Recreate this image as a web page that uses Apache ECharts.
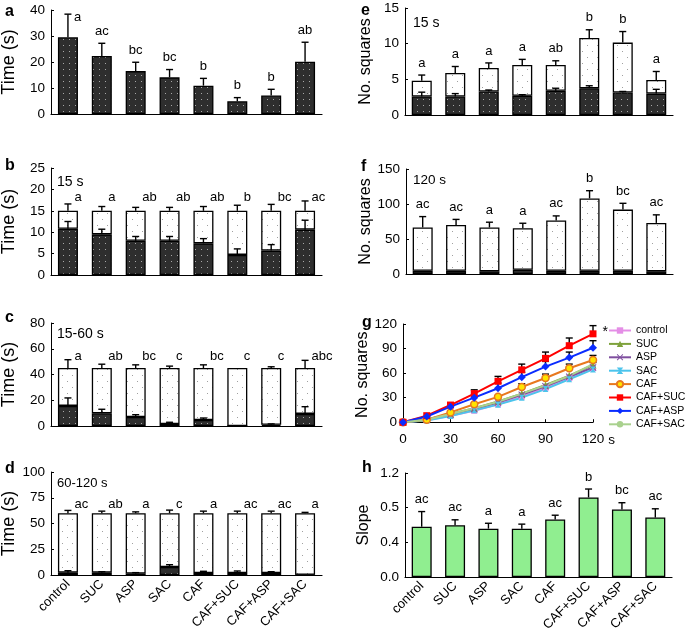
<!DOCTYPE html>
<html>
<head>
<meta charset="utf-8">
<script src="https://cdn.jsdelivr.net/npm/echarts@6.0.0/dist/echarts.min.js"></script>
<style>
  html, body { margin: 0; padding: 0; background: #fff; }
  #main { width: 685px; height: 630px; }
</style>
</head>
<body>
<div id="main"></div>
<script>
// 分组
const groups = ['control', 'SUC', 'ASP', 'SAC', 'CAF', 'CAF+SUC', 'CAF+ASP', 'CAF+SAC'];

// a: 总时间
const aMean = [29.5, 22.3, 16.5, 14.1, 10.9, 4.9, 7.1, 20.1];
const aHi = [38.4, 27.2, 19.9, 17.1, 13.7, 6.3, 9.5, 27.6];
const aLetters = ['a', 'ac', 'bc', 'bc', 'b', 'b', 'b', 'ab'];

// b: 15 s
const bTotal = [15, 15, 15, 15, 15, 15, 15, 15];
const bTotalHi = [16.6, 16.0, 15.8, 15.8, 16.0, 16.3, 16.5, 17.3];
const bDark = [10.8, 9.5, 8.0, 8.0, 7.4, 4.7, 5.7, 10.6];
const bDarkHi = [12.5, 10.7, 9.0, 9.0, 8.5, 6.1, 7.1, 12.8];
const bLetters = ['a', 'a', 'ab', 'ab', 'ab', 'b', 'bc', 'ac'];

// c: 15-60 s
const cTotal = [45, 45, 45, 45, 45, 45, 45, 45];
const cTotalHi = [51.5, 48, 47.5, 46.5, 47.5, null, 46, 51];
const cDark = [15.6, 9.9, 7.0, 1.6, 4.7, 0, 1.0, 9.4];
const cDarkHi = [21.8, 13, 8.8, 2.9, 6.2, null, 1.6, 15];
const cLetters = ['a', 'ab', 'bc', 'c', 'bc', 'c', 'c', 'abc'];

// d: 60-120 s
const dTotal = [60, 60, 60, 60, 60, 60, 60, 60];
const dTotalHi = [62.7, 62.0, 61.3, 63, 62.0, 62.0, 62.0, 60.8];
const dDark = [2.3, 2.3, 1.3, 7.8, 2.0, 2.0, 2.0, 0.3];
const dDarkHi = [4.2, 3.2, 2.3, 10, 3.6, 3.9, 3.2, null];
const dLetters = ['ac', 'ab', 'a', 'c', 'a', 'ac', 'ac', 'a'];

// e: 15 s 方格数
const eTotal = [4.8, 5.9, 6.6, 7.0, 7.0, 10.8, 10.15, 4.9];
const eTotalHi = [5.6, 6.8, 7.3, 7.8, 7.6, 11.95, 11.7, 6.1];
const eDark = [2.6, 2.6, 3.3, 2.7, 3.4, 3.75, 3.15, 3.0];
const eDarkHi = [3.2, 3.0, 3.5, 2.85, 3.75, 4.1, 3.3, 3.6];
const eLetters = ['a', 'a', 'a', 'a', 'ab', 'b', 'b', 'a'];

// f: 120 s 方格数
const fTotal = [66.5, 70, 66.5, 65.5, 76.5, 108, 92, 73];
const fTotalHi = [82, 78, 74, 72.5, 83, 119, 101, 84.5];
const fDark = [4.5, 4.5, 4, 6, 4.5, 4.5, 4.5, 4];
const fLetters = ['ac', 'ac', 'a', 'a', 'ac', 'b', 'bc', 'ac'];

// g: 累计方格数
const gTime = [0, 15, 30, 45, 60, 75, 90, 105, 120];
const gControl = [0, 2.5, 8, 14, 22, 31, 42, 54, 66];
const gSUC = [0, 3.5, 10, 17, 25.5, 35, 45.5, 57, 70];
const gASP = [0, 3, 9, 16, 24, 33.5, 44, 55.5, 67];
const gSAC = [0, 2, 7.5, 14.5, 21.5, 30, 40.5, 52.5, 64.5];
const gCAF = [0, 3, 12, 22, 31, 43, 54, 66, 76];
const gCafSuc = [0, 8, 21, 35, 50, 64, 78, 93.5, 108];
const gCafAsp = [0, 7, 19, 30, 41.5, 55, 68, 79, 91];
const gCafSac = [0, 3, 10, 17, 25, 35, 45, 56.5, 71];
const gCafSucHi = [null, null, null, 39.6, 56, 71, 85.7, 102.9, 118];
const gCafAspHi = [null, null, null, null, 47.8, 61, 74.3, 85.7, 99.6];
const gCafHi = [null, null, null, null, null, 47, 58.8, 71, 81.6];
const gSucHi = [null, null, null, null, null, null, null, null, 73];
const gTicks = [0, 30, 60, 90, 120];

// h: 斜率
const hMean = [0.58, 0.597, 0.558, 0.558, 0.663, 0.918, 0.779, 0.686];
const hHi = [0.755, 0.66, 0.62, 0.61, 0.713, 1.015, 0.857, 0.787];
const hLetters = ['ac', 'ac', 'a', 'a', 'ac', 'b', 'bc', 'ac'];
const hTickLabels = ['0.0', '0.4', '0.5', '1.2'];

const FONT = 'Arial, "Liberation Sans", sans-serif';

// 点状填充
function makePattern(bg, dot, w, h, pts) {
  const c = document.createElement('canvas');
  c.width = w; c.height = h;
  const ctx = c.getContext('2d');
  ctx.fillStyle = bg; ctx.fillRect(0, 0, w, h);
  ctx.fillStyle = dot;
  pts.forEach(p => ctx.fillRect(p[0], p[1], 1, 1));
  return { image: c, repeat: 'repeat' };
}
const darkFill = makePattern('#2e2e2e', '#a8a8a8', 6, 6, [[3, 3]]);
const lightFill = makePattern('#ffffff', '#a0a0a0', 10, 12, [[2, 3], [7, 9]]);

// 误差线
function errItem(params, api) {
  const p0 = api.coord([api.value(0), api.value(1)]);
  const p1 = api.coord([api.value(0), api.value(2)]);
  return {
    type: 'group',
    children: [
      { type: 'line', shape: { x1: p0[0], y1: p0[1], x2: p1[0], y2: p1[1] }, style: { stroke: '#000', lineWidth: 1.4 } },
      { type: 'line', shape: { x1: p1[0] - 3.5, y1: p1[1], x2: p1[0] + 3.5, y2: p1[1] }, style: { stroke: '#000', lineWidth: 1.4 } }
    ]
  };
}

// 显著性字母
function letterItem(letters, mode) {
  return function (params, api) {
    const pt = api.coord([api.value(0), api.value(1)]);
    const cs = params.coordSys;
    let x = pt[0], y = pt[1] - 12, align = 'center';
    if (mode === 'side') {
      x = pt[0] + 6.5; y = pt[1]; align = 'left';
    } else if (y < cs.y - 1) {
      x = pt[0] + 6; y = pt[1] + 3; align = 'left';
    }
    return {
      type: 'text',
      style: { text: letters[params.dataIndex], x: x, y: y, align: align, verticalAlign: 'middle', fill: '#000', font: '13px ' + FONT }
    };
  };
}

const option = {
  animation: false,
  textStyle: { fontFamily: FONT },
  grid: [], xAxis: [], yAxis: [], series: [], graphic: []
};

function addBarPanel(p) {
  const gi = option.grid.length;
  option.grid.push({ left: p.left, top: p.top, width: p.width, height: p.height, outerBoundsMode: 'none', containLabel: false });
  option.xAxis.push({
    type: 'category', gridIndex: gi, data: groups,
    axisTick: { show: false },
    axisLine: { lineStyle: { color: '#000', width: 1.2 } },
    axisLabel: p.showCats
      ? { show: true, interval: 0, rotate: 45, fontSize: 13, color: '#000', margin: 7 }
      : { show: false }
  });
  option.yAxis.push({
    type: 'value', gridIndex: gi, min: 0, max: p.max, interval: p.interval,
    name: p.name, nameLocation: 'middle', nameGap: p.nameGap,
    nameTextStyle: { fontSize: p.nameSize, color: '#000' },
    axisLine: { show: true, lineStyle: { color: '#000', width: 1 } },
    axisTick: { show: true, inside: true, length: 3, lineStyle: { color: '#000' } },
    splitLine: { show: false },
    axisLabel: { color: '#000', fontSize: 13.5, margin: 6, formatter: p.fmt }
  });
  p.layers.forEach(layer => {
    option.series.push({
      type: 'bar', xAxisIndex: gi, yAxisIndex: gi, stack: 's' + gi,
      data: layer.data, barWidth: 20, silent: true,
      itemStyle: { color: layer.fill, borderColor: '#000', borderWidth: 1.3 }
    });
  });
  p.layers.forEach(layer => {
    if (!layer.hi) return;
    const d = layer.top.map((v, i) => [i, v, layer.hi[i]]).filter(r => r[2] != null && r[2] > r[1]);
    option.series.push({
      type: 'custom', xAxisIndex: gi, yAxisIndex: gi, renderItem: errItem,
      data: d, z: 5, silent: true
    });
  });
  const anchor = p.labelLevel != null ? groups.map(() => p.labelLevel) : p.anchor;
  option.series.push({
    type: 'custom', xAxisIndex: gi, yAxisIndex: gi,
    renderItem: letterItem(p.letters, p.labelLevel != null ? 'side' : 'above'),
    data: anchor.map((v, i) => [i, v]), z: 6, silent: true
  });
}

const minus = (t, b) => t.map((v, i) => v - b[i]);

addBarPanel({ left: 51, top: 10, width: 271, height: 104, max: 40, interval: 10,
  name: 'Time (s)', nameGap: 33, nameSize: 18,
  layers: [{ data: aMean, top: aMean, hi: aHi, fill: darkFill }],
  letters: aLetters, anchor: aHi });

addBarPanel({ left: 51, top: 168, width: 271, height: 107, max: 25, interval: 5,
  name: 'Time (s)', nameGap: 33, nameSize: 18,
  layers: [
    { data: bDark, top: bDark, hi: bDarkHi, fill: darkFill },
    { data: minus(bTotal, bDark), top: bTotal, hi: bTotalHi, fill: lightFill }
  ],
  letters: bLetters, labelLevel: 18.2 });

addBarPanel({ left: 51, top: 323, width: 271, height: 103, max: 80, interval: 20,
  name: 'Time (s)', nameGap: 33, nameSize: 18,
  layers: [
    { data: cDark, top: cDark, hi: cDarkHi, fill: darkFill },
    { data: minus(cTotal, cDark), top: cTotal, hi: cTotalHi, fill: lightFill }
  ],
  letters: cLetters, labelLevel: 53.8 });

addBarPanel({ left: 51, top: 472, width: 271, height: 103, max: 100, interval: 25,
  name: 'Time (s)', nameGap: 33, nameSize: 18, showCats: true,
  layers: [
    { data: dDark, top: dDark, hi: dDarkHi, fill: darkFill },
    { data: minus(dTotal, dDark), top: dTotal, hi: dTotalHi, fill: lightFill }
  ],
  letters: dLetters, labelLevel: 69 });

addBarPanel({ left: 405, top: 8, width: 268, height: 107, max: 15, interval: 5,
  name: 'No. squares', nameGap: 31, nameSize: 16,
  layers: [
    { data: eDark, top: eDark, hi: eDarkHi, fill: darkFill },
    { data: minus(eTotal, eDark), top: eTotal, hi: eTotalHi, fill: lightFill }
  ],
  letters: eLetters, anchor: eTotalHi });

addBarPanel({ left: 406, top: 169, width: 267, height: 105, max: 150, interval: 50,
  name: 'No. squares', nameGap: 31, nameSize: 16,
  layers: [
    { data: fDark, top: fDark, hi: null, fill: darkFill },
    { data: minus(fTotal, fDark), top: fTotal, hi: fTotalHi, fill: lightFill }
  ],
  letters: fLetters, anchor: fTotalHi });

// g 折线图
const gi = option.grid.length;
option.grid.push({ left: 403, top: 324, width: 190, height: 101.5, outerBoundsMode: 'none', containLabel: false });
option.xAxis.push({
  type: 'value', gridIndex: gi, min: 0, max: 120, interval: 30,
  name: 's', nameLocation: 'end', nameGap: 13,
  nameTextStyle: { fontSize: 13.5, color: '#000', verticalAlign: 'top', padding: [11, 0, 0, 0] },
  axisLine: { lineStyle: { color: '#000', width: 1.2 } },
  axisTick: { show: true, inside: true, length: 3, lineStyle: { color: '#000' } },
  splitLine: { show: false },
  axisLabel: { color: '#000', fontSize: 13.5, margin: 7 }
});
option.yAxis.push({
  type: 'value', gridIndex: gi, min: -4, max: 120,
  name: 'No. squares', nameLocation: 'middle', nameGap: 30,
  nameTextStyle: { fontSize: 16, color: '#000' },
  axisLine: { show: true, lineStyle: { color: '#000', width: 1 } },
  axisTick: { show: true, inside: true, length: 3, customValues: gTicks, lineStyle: { color: '#000' } },
  splitLine: { show: false },
  axisLabel: { color: '#000', fontSize: 13.5, margin: 6, customValues: gTicks }
});

const xMark = 'path://M1,0L5,4L9,0L10,1L6,5L10,9L9,10L5,6L1,10L0,9L4,5L0,1Z';
const hourglass = 'path://M0,0H10L6,5L10,10H0L4,5Z';
const gLines = [
  { name: 'control', data: gControl, color: '#e48ee6', symbol: 'rect', size: 6 },
  { name: 'SUC', data: gSUC, color: '#7ea23c', symbol: 'triangle', size: 7 },
  { name: 'ASP', data: gASP, color: '#7f4f9f', symbol: xMark, size: 7 },
  { name: 'SAC', data: gSAC, color: '#4cc4ec', symbol: hourglass, size: 6 },
  { name: 'CAF', data: gCAF, color: '#e8781e', symbol: 'circle', size: 7, fill: '#ffe400' },
  { name: 'CAF+SUC', data: gCafSuc, color: '#ff0000', symbol: 'rect', size: 7 },
  { name: 'CAF+ASP', data: gCafAsp, color: '#0a2cff', symbol: 'diamond', size: 8 },
  { name: 'CAF+SAC', data: gCafSac, color: '#a9d18e', symbol: 'none', size: 0 }
];
const gErrs = [gSucHi, gCafHi, gCafAspHi, gCafSucHi];
const gErrBase = [gSUC, gCAF, gCafAsp, gCafSuc];
gErrs.forEach((hi, k) => {
  const d = gTime.map((t, i) => [t, gErrBase[k][i], hi[i]]).filter(r => r[2] != null);
  option.series.push({
    type: 'custom', xAxisIndex: gi, yAxisIndex: gi, renderItem: errItem,
    data: d, z: 1, silent: true
  });
});
gLines.forEach(s => {
  const data = gTime.map((t, i) => [t, s.data[i]]);
  const ser = {
    type: 'line', name: s.name, xAxisIndex: gi, yAxisIndex: gi,
    data: data, symbol: s.symbol, symbolSize: s.size, showSymbol: s.symbol !== 'none',
    lineStyle: { color: s.color, width: 2 },
    itemStyle: { color: s.fill || s.color, borderColor: s.color, borderWidth: s.fill ? 1.5 : 0 },
    z: 3, silent: true
  };
  if (s.name === 'CAF+SUC') {
    ser.data[ser.data.length - 1] = {
      value: data[data.length - 1],
      label: { show: true, position: 'right', distance: 6, formatter: '*', fontSize: 14, color: '#000', offset: [0, -2] }
    };
  }
  option.series.push(ser);
});

option.legend = {
  data: groups, orient: 'vertical', left: 608, top: 324, padding: 0,
  itemWidth: 22, itemHeight: 8, itemGap: 0.4, selectedMode: false,
  textStyle: { fontSize: 10.5, color: '#000', lineHeight: 13 }
};

addBarPanel({ left: 405, top: 473, width: 267, height: 104, max: 1.2, interval: 0.4,
  name: 'Slope', nameGap: 33, nameSize: 16, showCats: true,
  fmt: v => hTickLabels[Math.round(v / 0.4)],
  layers: [{ data: hMean, top: hMean, hi: hHi, fill: '#90ee90' }],
  letters: hLetters, anchor: hHi });

// 面板字母与文字
const bold = { fontSize: 16, fontWeight: 'bold', fill: '#000', fontFamily: FONT };
[['a', 5, 4], ['b', 5, 158], ['c', 5, 310], ['d', 5, 461],
 ['e', 361, 3], ['f', 361, 159], ['g', 362, 315], ['h', 362, 460]].forEach(t => {
  option.graphic.push({ type: 'text', left: t[1], top: t[2], style: Object.assign({ text: t[0] }, bold) });
});
[['15 s', 57, 175, 14], ['15-60 s', 57, 327, 14], ['60-120 s', 57, 477, 13],
 ['15 s', 413, 16, 14], ['120 s', 413, 173, 13.5]].forEach(t => {
  option.graphic.push({ type: 'text', left: t[1], top: t[2], style: { text: t[0], fontSize: t[3], fill: '#000', fontFamily: FONT } });
});

const myChart = echarts.init(document.getElementById('main'));
myChart.setOption(option);
</script>
</body>
</html>
